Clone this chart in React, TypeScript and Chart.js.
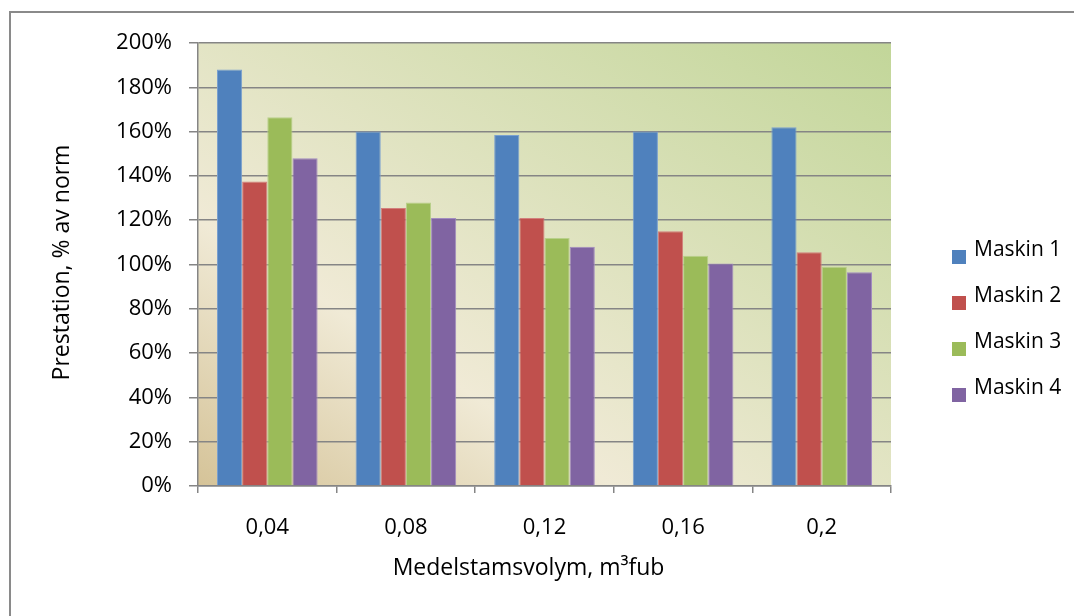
import React, { useEffect, useRef } from "react";
import { Chart, registerables } from "chart.js";

Chart.register(...registerables);

// Average stem volume classes (m³fub)
const categories = ["0,04", "0,08", "0,12", "0,16", "0,2"];
const seriesNames = ["Maskin 1", "Maskin 2", "Maskin 3", "Maskin 4"];

// Performance in percent of norm per machine
const maskin1 = [188, 160, 158.5, 160, 162];
const maskin2 = [137.5, 125.5, 121, 115, 105.5];
const maskin3 = [166.5, 128, 112, 104, 99];
const maskin4 = [148, 121, 108, 100.5, 96.5];

const yTicks = [0, 20, 40, 60, 80, 100, 120, 140, 160, 180, 200];

const fills = ["#4f81bd", "#c0504d", "#9bbb59", "#8064a2"];
const edges = ["#7aa0cf", "#d27f7c", "#b8d08a", "#a28cc0"];

const yTitle = "Prestation, % av norm";
const xTitle = "Medelstamsvolym, m³fub";

const FONT = "'Open Sans', 'DejaVu Sans', sans-serif";
const GRID = "#858585";

const decorPlugin = {
  id: "decor",
  beforeDraw(chart: any) {
    const { ctx, chartArea } = chart;
    const { left, right, top, bottom } = chartArea;
    ctx.save();
    // outer frame (left and top edges visible)
    ctx.strokeStyle = "#8a8a8a";
    ctx.lineWidth = 2;
    ctx.strokeRect(10, 12, chart.width + 20, chart.height + 20);
    // plot area gradient, corner to corner in the area's own proportions
    ctx.save();
    ctx.translate(left, top);
    ctx.scale(right - left, bottom - top);
    const g = ctx.createLinearGradient(0, 1, 1, 0);
    g.addColorStop(0, "#d5c398");
    g.addColorStop(0.3, "#f0ead6");
    g.addColorStop(1, "#c2d699");
    ctx.fillStyle = g;
    ctx.fillRect(0, 0, 1, 1);
    ctx.restore();
    ctx.restore();
  },
  afterDraw(chart: any) {
    const { ctx, chartArea } = chart;
    const { left, right, top, bottom } = chartArea;
    ctx.save();
    ctx.fillStyle = "#000";
    ctx.font = `23px ${FONT}`;
    // y-axis title
    ctx.save();
    ctx.translate(left - 129, (top + bottom) / 2 - 2);
    ctx.rotate(-Math.PI / 2);
    ctx.textAlign = "center";
    ctx.textBaseline = "alphabetic";
    ctx.fillText(yTitle, 0, 0);
    ctx.restore();
    // x-axis title
    ctx.textAlign = "center";
    ctx.textBaseline = "alphabetic";
    ctx.fillText(xTitle, (left + right) / 2 - 16, bottom + 89);

    // legend
    ctx.font = `21px ${FONT}`;
    ctx.textAlign = "left";
    ctx.textBaseline = "alphabetic";
    chart.data.datasets.forEach((ds: any, i: number) => {
      const baseY = top + 213 + i * 46;
      ctx.fillStyle = ds.backgroundColor;
      ctx.fillRect(right + 61, baseY - 6, 14, 14);
      ctx.fillStyle = "#000";
      ctx.fillText(ds.label, right + 83, baseY);
    });
    ctx.restore();
  },
};

export default function App() {
  const ref = useRef<HTMLCanvasElement>(null);

  useEffect(() => {
    const canvas = ref.current;
    if (!canvas) return;
    const seriesData = [maskin1, maskin2, maskin3, maskin4];
    const chart = new Chart(canvas, {
      type: "bar",
      data: {
        labels: categories,
        datasets: seriesNames.map((name, i) => ({
          label: name,
          data: seriesData[i],
          backgroundColor: fills[i],
          borderColor: edges[i],
          borderWidth: 1,
          categoryPercentage: 0.726,
          barPercentage: 1,
        })),
      },
      options: {
        animation: false,
        responsive: false,
        devicePixelRatio: 1,
        layout: { padding: { left: 0, top: 43, right: 183, bottom: 0 } },
        plugins: {
          legend: { display: false },
          tooltip: { enabled: false },
        },
        scales: {
          x: {
            offset: true,
            grid: {
              offset: true,
              drawOnChartArea: false,
              drawTicks: true,
              tickLength: 7,
              color: GRID,
              lineWidth: 1.5,
            },
            border: { display: true, color: GRID, width: 1.5 },
            ticks: {
              color: "#000",
              font: { family: FONT, size: 22 },
              padding: 22,
              maxRotation: 0,
            },
            afterFit(scale: any) {
              scale.height = 130;
            },
          },
          y: {
            min: 0,
            max: 200,
            afterBuildTicks(scale: any) {
              scale.ticks = yTicks.map((v) => ({ value: v }));
            },
            grid: {
              color: GRID,
              lineWidth: 1.5,
              drawTicks: true,
              tickLength: 9,
            },
            border: { display: true, color: GRID, width: 1.5 },
            ticks: {
              color: "#000",
              font: { family: FONT, size: 22 },
              padding: 17,
              callback: (v: any) => `${v}%`,
            },
            afterFit(scale: any) {
              scale.width = 198;
            },
          },
        },
      },
      plugins: [decorPlugin],
    });
    return () => chart.destroy();
  }, []);

  return (
    <div style={{ position: "fixed", left: 0, top: 0, width: 1074, height: 616, background: "#fff" }}>
      <canvas ref={ref} width={1074} height={616} style={{ display: "block" }} />
    </div>
  );
}
